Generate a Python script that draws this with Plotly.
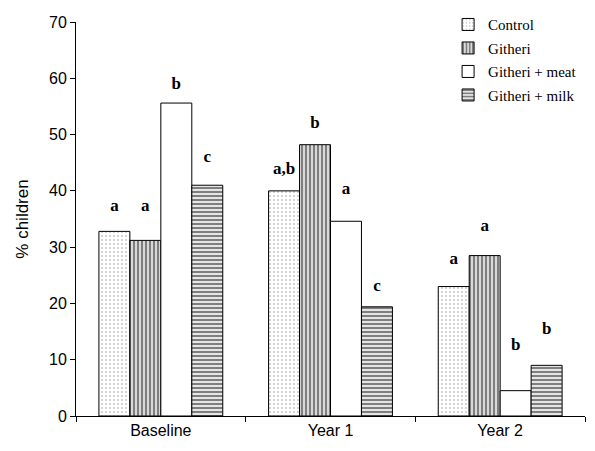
import plotly.graph_objects as go

categories = ["Baseline", "Year 1", "Year 2"]
series_names = ["Control", "Githeri", "Githeri + meat", "Githeri + milk"]
control = [32.8, 40.0, 23.0]
githeri = [31.2, 48.2, 28.5]
meat = [55.6, 34.6, 4.5]
milk = [41.0, 19.4, 9.0]
values = [control, githeri, meat, milk]

# significance letters and the height at which each is printed
letters = [["a", "a,b", "a"], ["a", "b", "a"], ["b", "a", "b"], ["c", "c", "b"]]
letter_y = [[37.2, 43.8, 27.8], [37.2, 52.0, 33.6], [58.8, 40.2, 12.4], [45.8, 23.0, 15.4]]

y_ticks = [0, 10, 20, 30, 40, 50, 60, 70]

patterns = [
    dict(shape=".", fgcolor="#888888", bgcolor="white", size=4, solidity=0.18),
    dict(shape="|", fgcolor="black", bgcolor="white", size=4, solidity=0.65),
    dict(shape="", fgcolor="black", bgcolor="white"),
    dict(shape="-", fgcolor="black", bgcolor="white", size=4, solidity=0.6),
]

fig = go.Figure()
for i, name in enumerate(series_names):
    fig.add_trace(go.Bar(
        x=categories, y=values[i], name=name, offsetgroup=str(i), legendgroup=name,
        marker=dict(color="white", line=dict(color="black", width=1),
                    pattern=patterns[i]),
    ))
for i, name in enumerate(series_names):
    fig.add_trace(go.Scatter(
        x=categories, y=letter_y[i], text=letters[i], mode="text",
        offsetgroup=str(i), showlegend=False, hoverinfo="skip",
        textposition="middle center",
        textfont=dict(family="Times New Roman, Liberation Serif, serif", size=17, color="black", weight="bold"),
    ))

fig.update_layout(
    width=595, height=451,
    margin=dict(l=68, r=18, t=14, b=43, autoexpand=False),
    paper_bgcolor="white", plot_bgcolor="white",
    barmode="group", bargap=0.27, bargroupgap=0,
    scattermode="group", scattergap=0.27,
    showlegend=True,
    legend=dict(x=0.731, y=1.035, xanchor="left", yanchor="top",
                font=dict(family="Times New Roman, Liberation Serif, serif", size=15, color="black"),
                bgcolor="rgba(0,0,0,0)", tracegroupgap=1, itemwidth=30),
    font=dict(family="Arial, Liberation Sans, sans-serif", color="black"),
)
fig.update_xaxes(
    showline=True, linecolor="black", linewidth=1, automargin=False,
    ticks="outside", tickson="boundaries", ticklen=5, tickcolor="black",
    tickfont=dict(size=16, family="Arial, Liberation Sans, sans-serif"),
    showgrid=False, zeroline=False,
)
fig.update_yaxes(
    range=[0, 70], tickvals=y_ticks, showline=True, linecolor="black", linewidth=1,
    automargin=False,
    ticks="outside", ticklen=5, tickcolor="black",
    tickfont=dict(size=16, family="Arial, Liberation Sans, sans-serif"),
    title=dict(text="% children", font=dict(size=17, family="Arial, Liberation Sans, sans-serif"), standoff=16),
    showgrid=False, zeroline=False,
)

fig.write_html("out.html")
